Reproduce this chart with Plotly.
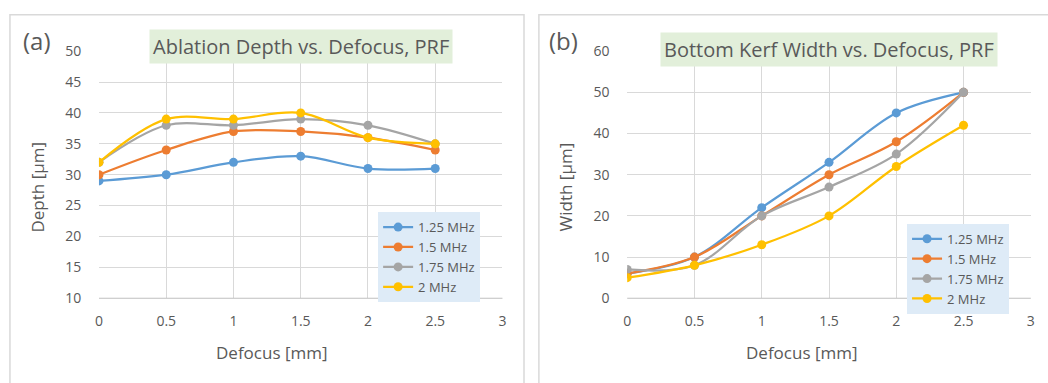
import plotly.graph_objects as go

W, H = 1048, 383
defocus = [0, 0.5, 1, 1.5, 2, 2.5]
series_names = ["1.25 MHz", "1.5 MHz", "1.75 MHz", "2 MHz"]
colors = ["#5B9BD5", "#ED7D31", "#A5A5A5", "#FFC000"]

depth_125 = [29, 30, 32, 33, 31, 31]
depth_15 = [30, 34, 37, 37, 36, 34]
depth_175 = [32, 38, 38, 39, 38, 35]
depth_2 = [32, 39, 39, 40, 36, 35]

width_125 = [6, 10, 22, 33, 45, 50]
width_15 = [6, 10, 20, 30, 38, 50]
width_175 = [7, 8, 20, 27, 35, 50]
width_2 = [5, 8, 13, 20, 32, 42]

depth_series = [depth_125, depth_15, depth_175, depth_2]
width_series = [width_125, width_15, width_175, width_2]

FONT = "Open Sans"
TXT = "#595959"

def px(x):
    return x / W

def py(y):
    return 1 - y / H

fig = go.Figure()
for name, col, ys in zip(series_names, colors, depth_series):
    fig.add_trace(go.Scatter(x=defocus, y=ys, name=name, mode="lines+markers",
                             line=dict(color=col, width=2.25, shape="spline", smoothing=1),
                             marker=dict(size=9, color=col),
                             xaxis="x", yaxis="y", legend="legend"))
for name, col, ys in zip(series_names, colors, width_series):
    fig.add_trace(go.Scatter(x=defocus, y=ys, name=name, mode="lines+markers",
                             line=dict(color=col, width=2.25, shape="spline", smoothing=1),
                             marker=dict(size=9, color=col),
                             xaxis="x2", yaxis="y2", legend="legend2"))

axis_common = dict(showgrid=True, gridcolor="#D9D9D9", gridwidth=1, zeroline=False,
                   tickfont=dict(family=FONT, size=14, color=TXT), showline=False,
                   ticks="outside", tickcolor="rgba(0,0,0,0)")

fig.update_layout(
    width=W, height=H, margin=dict(l=0, r=0, t=0, b=0),
    paper_bgcolor="white", plot_bgcolor="white",
    font=dict(family=FONT, color=TXT),
    xaxis=dict(domain=[px(95.7), px(502.3)], range=[0, 3], dtick=0.5, anchor="y",
               ticklen=10, **axis_common),
    yaxis=dict(domain=[py(303.3), py(43.3)], range=[10, 50], dtick=5, anchor="x",
               ticklen=14, **axis_common),
    xaxis2=dict(domain=[px(628), px(1034.7)], range=[0, 3], dtick=0.5, anchor="y2",
                ticklen=10, **axis_common),
    yaxis2=dict(domain=[py(303.3), py(43.3)], range=[0, 60], dtick=10, anchor="x2",
                ticklen=14, **axis_common),
    legend=dict(x=px(377), y=py(212.7), xanchor="left", yanchor="top",
                bgcolor="#DEEBF7", font=dict(family=FONT, size=13, color=TXT),
                itemwidth=30, tracegroupgap=0),
    legend2=dict(x=px(910), y=py(225), xanchor="left", yanchor="top",
                 bgcolor="#DEEBF7", font=dict(family=FONT, size=13, color=TXT),
                 itemwidth=30, tracegroupgap=0),
    showlegend=True,
)

shapes = [
    dict(type="rect", xref="paper", yref="paper", x0=px(6), x1=px(524), y0=py(395), y1=py(5),
         line=dict(color="#D9D9D9", width=1.5), fillcolor="rgba(0,0,0,0)", layer="below"),
    dict(type="rect", xref="paper", yref="paper", x0=px(539), x1=px(1060), y0=py(395), y1=py(5),
         line=dict(color="#D9D9D9", width=1.5), fillcolor="rgba(0,0,0,0)", layer="below"),
    dict(type="line", xref="paper", yref="paper", x0=px(95.7), x1=px(502.3), y0=py(303.3), y1=py(303.3),
         line=dict(color="#BFBFBF", width=1.2)),
    dict(type="line", xref="paper", yref="paper", x0=px(628), x1=px(1034.7), y0=py(303.3), y1=py(303.3),
         line=dict(color="#BFBFBF", width=1.2)),
]
fig.update_layout(shapes=shapes)

ann = []
def add_text(x, y, text, size, angle=0, bg=None, pad=0):
    ann.append(dict(x=px(x), y=py(y), xref="paper", yref="paper", text=text, showarrow=False,
                    xanchor="center", yanchor="middle", textangle=angle,
                    font=dict(family=FONT, size=size, color=TXT),
                    bgcolor=bg, borderpad=pad))

add_text(33, 32, "(a)", 24)
add_text(564, 32, "(b)", 24)
add_text(299, 38.5, "Ablation Depth vs. Defocus, PRF", 20, bg="#E2EFDA", pad=3)
add_text(831, 41.5, "Bottom Kerf Width vs. Defocus, PRF", 20, bg="#E2EFDA", pad=3)
add_text(270, 360, "Defocus [mm]", 17)
add_text(804, 360, "Defocus [mm]", 17)
add_text(34, 186, "Depth [µm]", 17, angle=-90)
add_text(566, 186, "Width [µm]", 17, angle=-90)
fig.update_layout(annotations=ann)

post = ("document.documentElement.style.margin='0';"
        "document.documentElement.style.overflow='hidden';"
        "document.body.style.margin='0';"
        "document.body.style.overflow='hidden';"
        "var gd=document.getElementById('{plot_id}');"
        "gd.style.position='fixed';gd.style.left='0px';gd.style.top='0px';")

fig.write_html("out.html", config={"displayModeBar": False}, post_script=post)
